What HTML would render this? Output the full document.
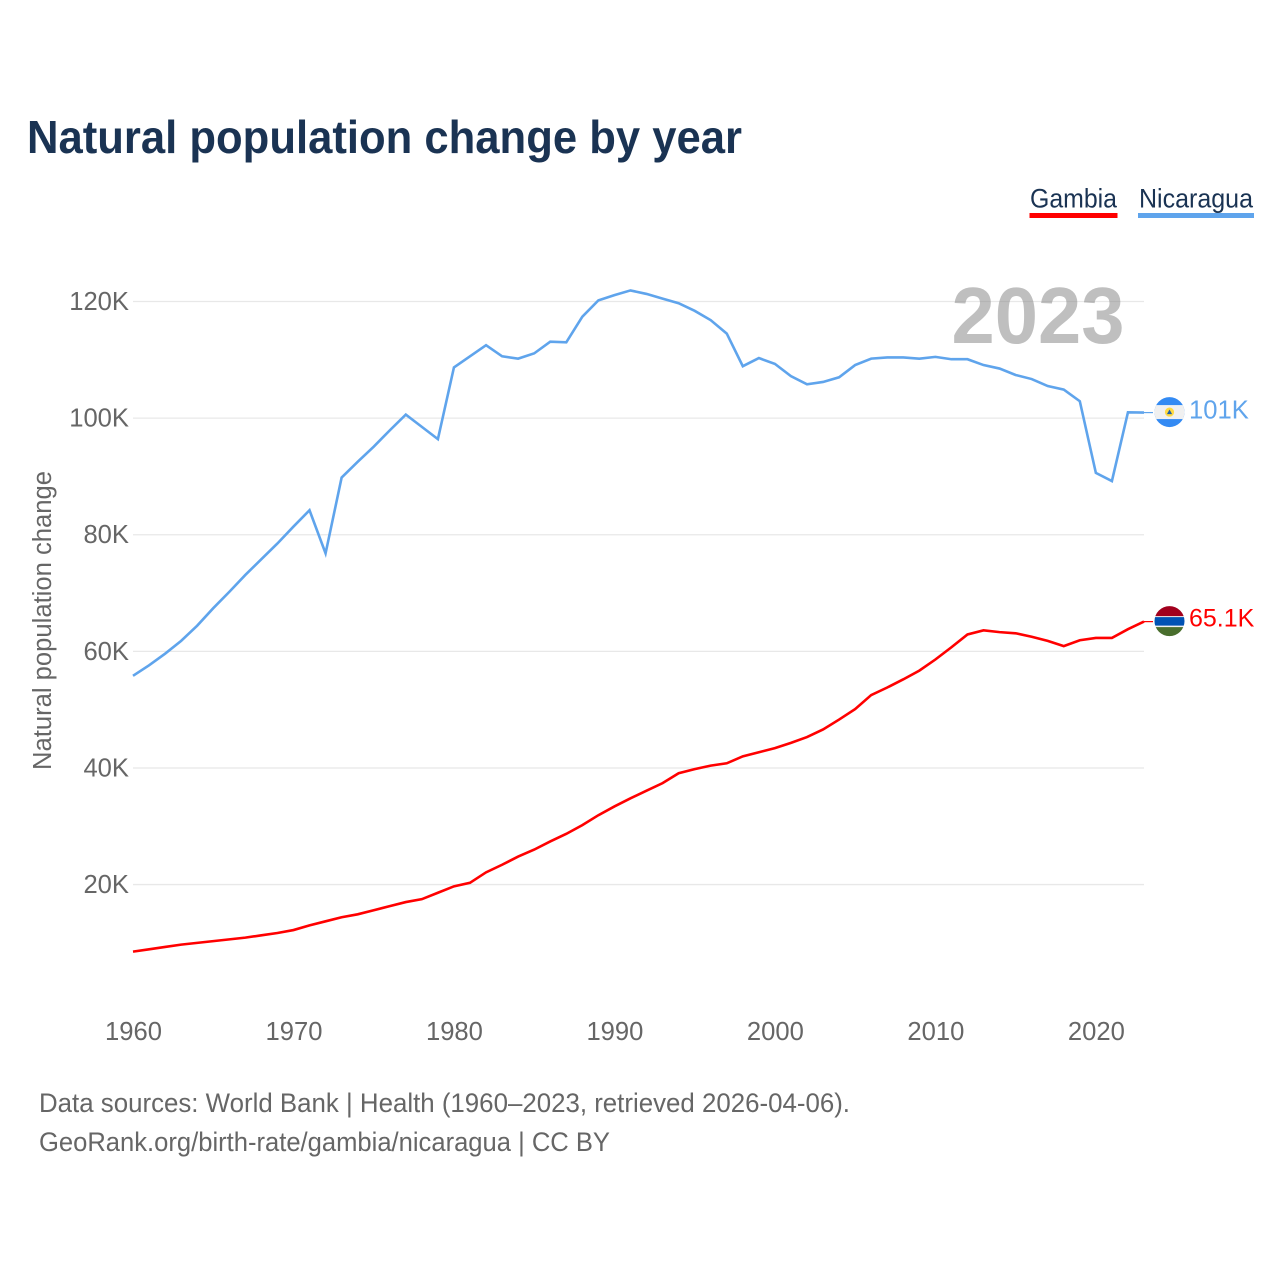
<!DOCTYPE html>
<html>
<head>
<meta charset="utf-8">
<title>Natural population change by year</title>
<style>
html,body{margin:0;padding:0;background:#fff;}
svg{display:block;font-family:"Liberation Sans",sans-serif;}
</style>
</head>
<body>
<svg id="chart" xmlns="http://www.w3.org/2000/svg" width="1280" height="1280" viewBox="0 0 1280 1280">
  <defs>
    <clipPath id="flag-clip"><circle cx="0" cy="0" r="15"></circle></clipPath>
  </defs>
  <rect x="0" y="0" width="1280" height="1280" fill="#ffffff"></rect>
  <text x="27" y="153" font-size="46" font-weight="700" fill="#1a3353" textLength="715" lengthAdjust="spacingAndGlyphs">Natural population change by year</text>

  <g>
    <text x="1030" y="207.500" font-size="27" fill="#1a3353" textLength="87" lengthAdjust="spacingAndGlyphs">Gambia</text>
    <rect x="1029.500" y="213" width="88" height="5" fill="#ff0000"></rect>
  </g>
  <g>
    <text x="1139" y="207.500" font-size="27" fill="#1a3353" textLength="114" lengthAdjust="spacingAndGlyphs">Nicaragua</text>
    <rect x="1138" y="213" width="116" height="5" fill="#5fa4ec"></rect>
  </g>

  <g id="grid"></g>
  <g id="y-ticks"></g>
  <g id="x-ticks"></g>
  <text transform="translate(51 620.500) rotate(-90)" text-anchor="middle" font-size="25.500" fill="#666666" textLength="299" lengthAdjust="spacingAndGlyphs">Natural population change</text>
  <text x="1038" y="343" text-anchor="middle" font-size="80" font-weight="700" fill="#808080" fill-opacity="0.5" textLength="173" lengthAdjust="spacingAndGlyphs">2023</text>
  <g id="series"></g>
  <g id="end-labels"></g>

  <text x="39" y="1112" font-size="27" fill="#666666" textLength="811" lengthAdjust="spacingAndGlyphs">Data sources: World Bank | Health (1960–2023, retrieved 2026-04-06).</text>
  <text x="39" y="1151" font-size="27" fill="#666666" textLength="571" lengthAdjust="spacingAndGlyphs">GeoRank.org/birth-rate/gambia/nicaragua | CC BY</text>
</svg>
<script>
const years = [1960,1961,1962,1963,1964,1965,1966,1967,1968,1969,1970,1971,1972,1973,1974,1975,1976,1977,1978,1979,1980,1981,1982,1983,1984,1985,1986,1987,1988,1989,1990,1991,1992,1993,1994,1995,1996,1997,1998,1999,2000,2001,2002,2003,2004,2005,2006,2007,2008,2009,2010,2011,2012,2013,2014,2015,2016,2017,2018,2019,2020,2021,2022,2023];
const nicaraguaValues = [55800,57600,59600,61800,64400,67400,70200,73100,75800,78500,81400,84200,76800,89800,92500,95100,97900,100600,98500,96400,108700,110600,112500,110600,110200,111100,113100,113000,117400,120200,121100,121900,121300,120500,119700,118400,116800,114500,108900,110300,109300,107200,105800,106200,107000,109100,110200,110400,110400,110200,110500,110100,110100,109100,108500,107400,106700,105500,104900,102900,90600,89200,101000,100950];
const gambiaValues = [8500,8900,9300,9700,10000,10300,10600,10900,11300,11700,12200,13000,13700,14400,14900,15600,16300,17000,17500,18600,19700,20300,22100,23400,24800,26000,27400,28700,30200,31900,33400,34800,36100,37400,39100,39800,40400,40800,42000,42700,43400,44300,45300,46600,48300,50100,52500,53800,55200,56700,58600,60700,62900,63600,63300,63100,62500,61800,60900,61900,62300,62300,63800,65100];
const yTickValues = [20000,40000,60000,80000,100000,120000];
const yTickLabels = ['20K','40K','60K','80K','100K','120K'];
const xTickValues = [1960,1970,1980,1990,2000,2010,2020];
const gambiaEndLabel = '65.1K';
const nicaraguaEndLabel = '101K';

const SVG_NS = 'http://www.w3.org/2000/svg';
const xScale = function (year) { return 133 + (year - 1960) * (1144 - 133) / 63; };
const yScale = function (value) { return 1001.2 - value * (1001.2 - 301.5) / 120000; };

function make(tag, attrs, parent) {
  const el = document.createElementNS(SVG_NS, tag);
  Object.keys(attrs).forEach(function (k) { el.setAttribute(k, attrs[k]); });
  parent.appendChild(el);
  return el;
}

const gridGroup = document.getElementById('grid');
const yTickGroup = document.getElementById('y-ticks');
yTickValues.forEach(function (v, i) {
  const line = make('line', {x1: 133, x2: 1144, y1: yScale(v), y2: yScale(v), stroke: '#e8e8e8', 'stroke-width': 1.3}, gridGroup);
  
  
  const label = make('text', {x: 129, y: yScale(v) + 8.5, 'text-anchor': 'end', 'font-size': 25.6, fill: '#666666'}, yTickGroup);
  
  
  label.textContent = yTickLabels[i];
});

const xTickGroup = document.getElementById('x-ticks');
xTickValues.forEach(function (year) {
  const label = make('text', {x: xScale(year) + 0.5, y: 1040, 'text-anchor': 'middle', 'font-size': 25.6, fill: '#666666'}, xTickGroup);
  
  
  label.textContent = String(year);
});

function linePath(values) {
  return values.map(function (v, i) {
    return (i ? 'L' : 'M') + xScale(years[i]).toFixed(2) + ' ' + yScale(v).toFixed(2);
  }).join(' ');
}

const seriesGroup = document.getElementById('series');
const nicaraguaLine = make('path', {d: linePath(nicaraguaValues), fill: 'none', stroke: '#5fa4ec', 'stroke-width': 2.6, 'stroke-linejoin': 'miter'}, seriesGroup);


const gambiaLine = make('path', {d: linePath(gambiaValues), fill: 'none', stroke: '#ff0000', 'stroke-width': 2.6, 'stroke-linejoin': 'miter'}, seriesGroup);



const endGroup = document.getElementById('end-labels');
const lastYear = years[years.length - 1];

/* Nicaragua end marker */
const nicY = yScale(nicaraguaValues[nicaraguaValues.length - 1]);
const nicConnector = make('line', {x1: xScale(lastYear), x2: xScale(lastYear) + 9, y1: nicY, y2: nicY, stroke: '#5fa4ec', 'stroke-width': 1.2}, endGroup);


const nicFlag = make('g', {transform: 'translate(' + (xScale(lastYear) + 25.5) + ' ' + (nicY - 0.5) + ')', 'clip-path': 'url(#flag-clip)'}, endGroup);


make('rect', {x: -16, y: -16, width: 32, height: 32, fill: '#338af3'}, nicFlag);
make('rect', {x: -16, y: -7, width: 32, height: 14, fill: '#f0f0f0'}, nicFlag);
make('circle', {cx: 0, cy: 0, r: 4.6, fill: '#ffda44'}, nicFlag);
make('polygon', {points: '-2.6,2 2.6,2 0,-2.6', fill: '#1f5fa8'}, nicFlag);
const nicLabel = make('text', {x: xScale(lastYear) + 45, y: nicY + 6, 'font-size': 25.6, fill: '#5fa4ec'}, endGroup);


nicLabel.textContent = nicaraguaEndLabel;

/* Gambia end marker */
const gamY = yScale(gambiaValues[gambiaValues.length - 1]);
const gamConnector = make('line', {x1: xScale(lastYear), x2: xScale(lastYear) + 9, y1: gamY, y2: gamY, stroke: '#ff0000', 'stroke-width': 1.2}, endGroup);


const gamFlag = make('g', {transform: 'translate(' + (xScale(lastYear) + 25.5) + ' ' + (gamY - 0.5) + ')', 'clip-path': 'url(#flag-clip)'}, endGroup);


make('rect', {x: -16, y: -16, width: 32, height: 32, fill: '#f0f0f0'}, gamFlag);
make('rect', {x: -16, y: -16, width: 32, height: 11, fill: '#a2001d'}, gamFlag);
make('rect', {x: -16, y: -4, width: 32, height: 8.500, fill: '#0052b4'}, gamFlag);
make('rect', {x: -16, y: 6, width: 32, height: 11, fill: '#496e2d'}, gamFlag);
const gamLabel = make('text', {x: xScale(lastYear) + 45, y: gamY + 5, 'font-size': 25, fill: '#ff0000'}, endGroup);


gamLabel.textContent = gambiaEndLabel;
</script>
</body>
</html>
